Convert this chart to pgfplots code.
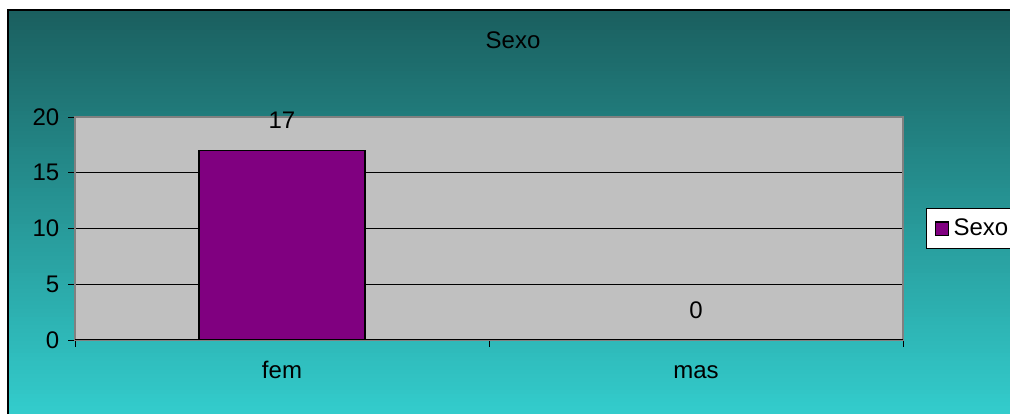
\documentclass[border=0pt]{standalone}
\usepackage{pgfplots}
\pgfplotsset{compat=1.18}
\usepackage{fontspec}
\setmainfont{Liberation Sans}
\definecolor{topc}{HTML}{1A5E5E}
\definecolor{botc}{HTML}{33CCCC}
\definecolor{plotgray}{HTML}{C0C0C0}
\definecolor{barpurple}{HTML}{800080}
\begin{document}
\begin{tikzpicture}[x=0.75pt,y=0.75pt]
\fill[white] (0,0) rectangle (1010,414);
\foreach \i in {0,...,100} {
  \pgfmathsetmacro{\ya}{4.04*\i}
  \pgfmathsetmacro{\yb}{4.04*\i+4.5}
  \pgfmathsetmacro{\pc}{100-\i}
  \fill[botc!\pc!topc] (8,\ya) rectangle (1020,\yb);
}
\fill[white] (0,404.4) rectangle (1020,414);
\draw[black,line width=0.8pt] (8,0) -- (8,404) -- (1020,404);
\node[font=\fontsize{18}{21}\selectfont] at (513,374) {Sexo};
\begin{axis}[
  at={(56.25pt,55.5pt)}, anchor=south west,
  scale only axis, width=621pt, height=167.25pt,
  ybar, bar width=124.5pt,
  xmin=-0.5, xmax=1.5, ymin=0, ymax=20,
  xtick={0,1}, xticklabels={fem,mas},
  major x tick style={draw=none},
  minor xtick={-0.5,0.5,1.5},
  ytick={0,5,10,15,20},
  major tick length=5.25pt, minor tick length=5.25pt,
  tick align=outside, tick pos=left,
  tick style={black, line width=0.6pt},
  ymajorgrids, grid style={black, line width=0.6pt},
  axis background/.style={fill=plotgray},
  axis line style={draw=gray, line width=1pt},
  ticklabel style={font=\fontsize{18}{21}\selectfont},
  /pgf/number format/assume math mode=true,
  xticklabel style={anchor=base, yshift=-24pt},
  yticklabel style={xshift=-3pt},
  nodes near coords,
  every node near coord/.append style={font=\fontsize{18}{21}\selectfont, anchor=center, yshift=22.5pt},
  legend style={at={(1.0278,0.592)}, anchor=north west, draw=black, fill=white,
    font=\fontsize{18}{21}\selectfont, inner ysep=6pt, inner xsep=6pt, line width=0.8pt},
  legend image code/.code={\draw[#1, line width=0.8pt] (0pt,-4.9pt) rectangle (9.75pt,4.9pt); \path (11.5pt,0pt);},
]
\addplot[fill=barpurple, draw=black, line width=0.8pt] coordinates {(0,17) (1,0)};
\legend{Sexo}
\draw[black, line width=1pt] (rel axis cs:0,0) -- (rel axis cs:1,0);
\end{axis}
\pgfresetboundingbox
\useasboundingbox (0,0) rectangle (1010,414);
\end{tikzpicture}
\end{document}
